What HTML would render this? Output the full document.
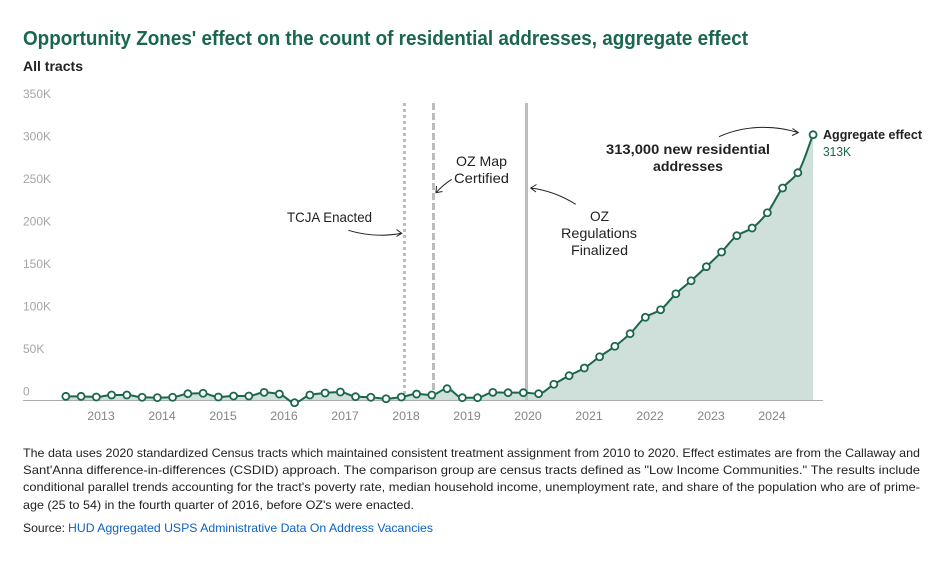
<!DOCTYPE html>
<html lang="en">
<head>
<meta charset="utf-8">
<title>Opportunity Zones' effect on residential addresses</title>
<style>
html,body{margin:0;padding:0;background:#fff;width:948px;height:563px;overflow:hidden}
svg{display:block}
text{font-family:"Liberation Sans",Arial,sans-serif}
</style>
</head>
<body>
<svg id="chart" width="948" height="563" viewBox="0 0 948 563" xmlns="http://www.w3.org/2000/svg">
  <text x="23" y="45" font-size="20" font-weight="700" fill="#1a6650" textLength="725" lengthAdjust="spacingAndGlyphs">Opportunity Zones' effect on the count of residential addresses, aggregate effect</text>
  <text x="23" y="71" font-size="14" font-weight="700" fill="#222" textLength="60" lengthAdjust="spacingAndGlyphs">All tracts</text>

  <g id="y-labels"></g>
  <g id="area-layer"></g>

  <line x1="404.5" x2="404.5" y1="103" y2="400" stroke="#bdbdbd" stroke-width="3" stroke-dasharray="3 3"/>
  <line x1="433.5" x2="433.5" y1="103" y2="400" stroke="#bdbdbd" stroke-width="3" stroke-dasharray="7 3"/>
  <line x1="526.5" x2="526.5" y1="103" y2="400" stroke="#bdbdbd" stroke-width="3"/>

  <line x1="23" x2="823" y1="400.5" y2="400.5" stroke="#a9adb0" stroke-width="1"/>
  <g id="x-labels"></g>
  <g id="line-layer"></g>

  <text x="287" y="222" font-size="14" fill="#222" textLength="85" lengthAdjust="spacingAndGlyphs">TCJA Enacted</text>
  <path d="M348.3 230.3C364 235 382 237 401.7 233.3M396.5 229.5L401.7 233.3L396.5 236.5" fill="none" stroke="#222" stroke-width="1"/>

  <text x="456" y="166" font-size="14" fill="#222" textLength="51" lengthAdjust="spacingAndGlyphs">OZ Map</text>
  <text x="454" y="183" font-size="14" fill="#222" textLength="55" lengthAdjust="spacingAndGlyphs">Certified</text>
  <path d="M451.7 179.3C446 183 441 187 436 192.7M436.5 186L436 192.7L442.5 191.5" fill="none" stroke="#222" stroke-width="1"/>

  <text x="590" y="221" font-size="14" fill="#222" textLength="19" lengthAdjust="spacingAndGlyphs">OZ</text>
  <text x="561" y="238" font-size="14" fill="#222" textLength="76" lengthAdjust="spacingAndGlyphs">Regulations</text>
  <text x="571" y="255" font-size="14" fill="#222" textLength="57" lengthAdjust="spacingAndGlyphs">Finalized</text>
  <path d="M575.7 204.3C561 195 547 190 530.7 188M536.5 184.5L530.7 188L536 192" fill="none" stroke="#222" stroke-width="1"/>

  <text x="606" y="154" font-size="14" font-weight="700" fill="#222" textLength="164" lengthAdjust="spacingAndGlyphs">313,000 new residential</text>
  <text x="653" y="171" font-size="14" font-weight="700" fill="#222" textLength="70" lengthAdjust="spacingAndGlyphs">addresses</text>
  <path d="M719 136.7C745 125 775 125 798.3 132.7M792.5 128.5L798.3 132.7L792 135.5" fill="none" stroke="#222" stroke-width="1"/>

  <text x="823" y="139" font-size="12.5" font-weight="700" fill="#222" textLength="99" lengthAdjust="spacingAndGlyphs">Aggregate effect</text>
  <text x="823" y="156" font-size="12.5" fill="#1a6650" textLength="28" lengthAdjust="spacingAndGlyphs">313K</text>

  <text x="23" y="457" font-size="12" fill="#222" textLength="897" lengthAdjust="spacingAndGlyphs">The data uses 2020 standardized Census tracts which maintained consistent treatment assignment from 2010 to 2020. Effect estimates are from the Callaway and</text>
  <text x="23" y="474" font-size="12" fill="#222" textLength="897" lengthAdjust="spacingAndGlyphs">Sant'Anna difference-in-differences (CSDID) approach. The comparison group are census tracts defined as "Low Income Communities." The results include</text>
  <text x="23" y="491" font-size="12" fill="#222" textLength="897" lengthAdjust="spacingAndGlyphs">conditional parallel trends accounting for the tract's poverty rate, median household income, unemployment rate, and share of the population who are of prime-</text>
  <text x="23" y="509" font-size="12" fill="#222" textLength="391" lengthAdjust="spacingAndGlyphs">age (25 to 54) in the fourth quarter of 2016, before OZ's were enacted.</text>
  <text x="23" y="532" font-size="12" fill="#222" textLength="42" lengthAdjust="spacingAndGlyphs">Source:</text>
  <text x="68" y="532" font-size="12" fill="#0b63c5" textLength="365" lengthAdjust="spacingAndGlyphs" style="cursor:pointer">HUD Aggregated USPS Administrative Data On Address Vacancies</text>
</svg>
<script>
var startYear = 2012.44;
var seriesValues = [4900,4900,4100,6500,6500,3800,3400,3800,8000,8500,4100,5300,5300,9600,7600,-2600,
  6500,8800,10000,4500,3800,2100,4100,7600,6500,13900,3300,3300,9600,9200,9200,8000,19100,29200,38200,51500,63800,
  78600,97900,106800,125600,140900,157400,174700,193900,202900,220900,250000,268000,312700];
var yTickValues = [0,50000,100000,150000,200000,250000,300000,350000];
var yTickLabels = ['0','50K','100K','150K','200K','250K','300K','350K'];
var xTickYears = [2013,2014,2015,2016,2017,2018,2019,2020,2021,2022,2023,2024];

var NS = 'http://www.w3.org/2000/svg';
function xScale(year){ return 527 + (year - 2020) * 61; }
function yScale(v){ return 400.5 - v * 0.00085; }
function pointX(i){ return xScale(startYear + i * 0.25); }
function mk(tag, attrs, parent){
  var el = document.createElementNS(NS, tag);
  for (var k in attrs) el.setAttribute(k, attrs[k]);
  parent.appendChild(el);
  return el;
}

var yGroup = document.getElementById('y-labels');
yTickValues.forEach(function(v, i){
  var t = mk('text', {x: 23, y: yScale(v) - 5, 'font-size': 12, fill: '#a6a6a6'}, yGroup);
  
  
  t.textContent = yTickLabels[i];
});

var xGroup = document.getElementById('x-labels');
xTickYears.forEach(function(year){
  var t = mk('text', {x: xScale(year) + 1, y: 420, 'font-size': 12.4, fill: '#858585', 'text-anchor': 'middle'}, xGroup);
  
  
  t.textContent = String(year);
});

/* monotone-X curve through the points */
function monotonePath(pts){
  var n = pts.length, m = [], d = [], i;
  for (i = 0; i < n - 1; i++) d[i] = (pts[i+1][1] - pts[i][1]) / (pts[i+1][0] - pts[i][0]);
  m[0] = d[0];
  m[n-1] = d[n-2];
  for (i = 1; i < n - 1; i++) {
    m[i] = d[i-1] * d[i] <= 0 ? 0 : 2 * d[i-1] * d[i] / (d[i-1] + d[i]);
  }
  var s = 'M' + pts[0][0] + ' ' + pts[0][1];
  for (i = 0; i < n - 1; i++) {
    var h = (pts[i+1][0] - pts[i][0]) / 3;
    s += 'C' + (pts[i][0] + h) + ' ' + (pts[i][1] + m[i] * h) + ' ' +
         (pts[i+1][0] - h) + ' ' + (pts[i+1][1] - m[i+1] * h) + ' ' +
         pts[i+1][0] + ' ' + pts[i+1][1];
  }
  return s;
}
var points = seriesValues.map(function(v, i){ return [pointX(i), yScale(v)]; });
var curve = monotonePath(points);
var lastX = points[points.length - 1][0], firstX = points[0][0];

var areaEl = mk('path', {d: curve + 'L' + lastX + ' ' + yScale(0) + 'L' + firstX + ' ' + yScale(0) + 'Z', fill: '#cfe0da'}, document.getElementById('area-layer'));



var lineLayer = document.getElementById('line-layer');
var lineEl = mk('path', {d: curve, fill: 'none', stroke: '#1a6650', 'stroke-width': 2}, lineLayer);



points.forEach(function(p){
  var c = mk('circle', {cx: p[0], cy: p[1], r: 3.5, fill: '#fff', stroke: '#1a6650', 'stroke-width': 1.8}, lineLayer);
  
  
});
</script>
</body>
</html>
